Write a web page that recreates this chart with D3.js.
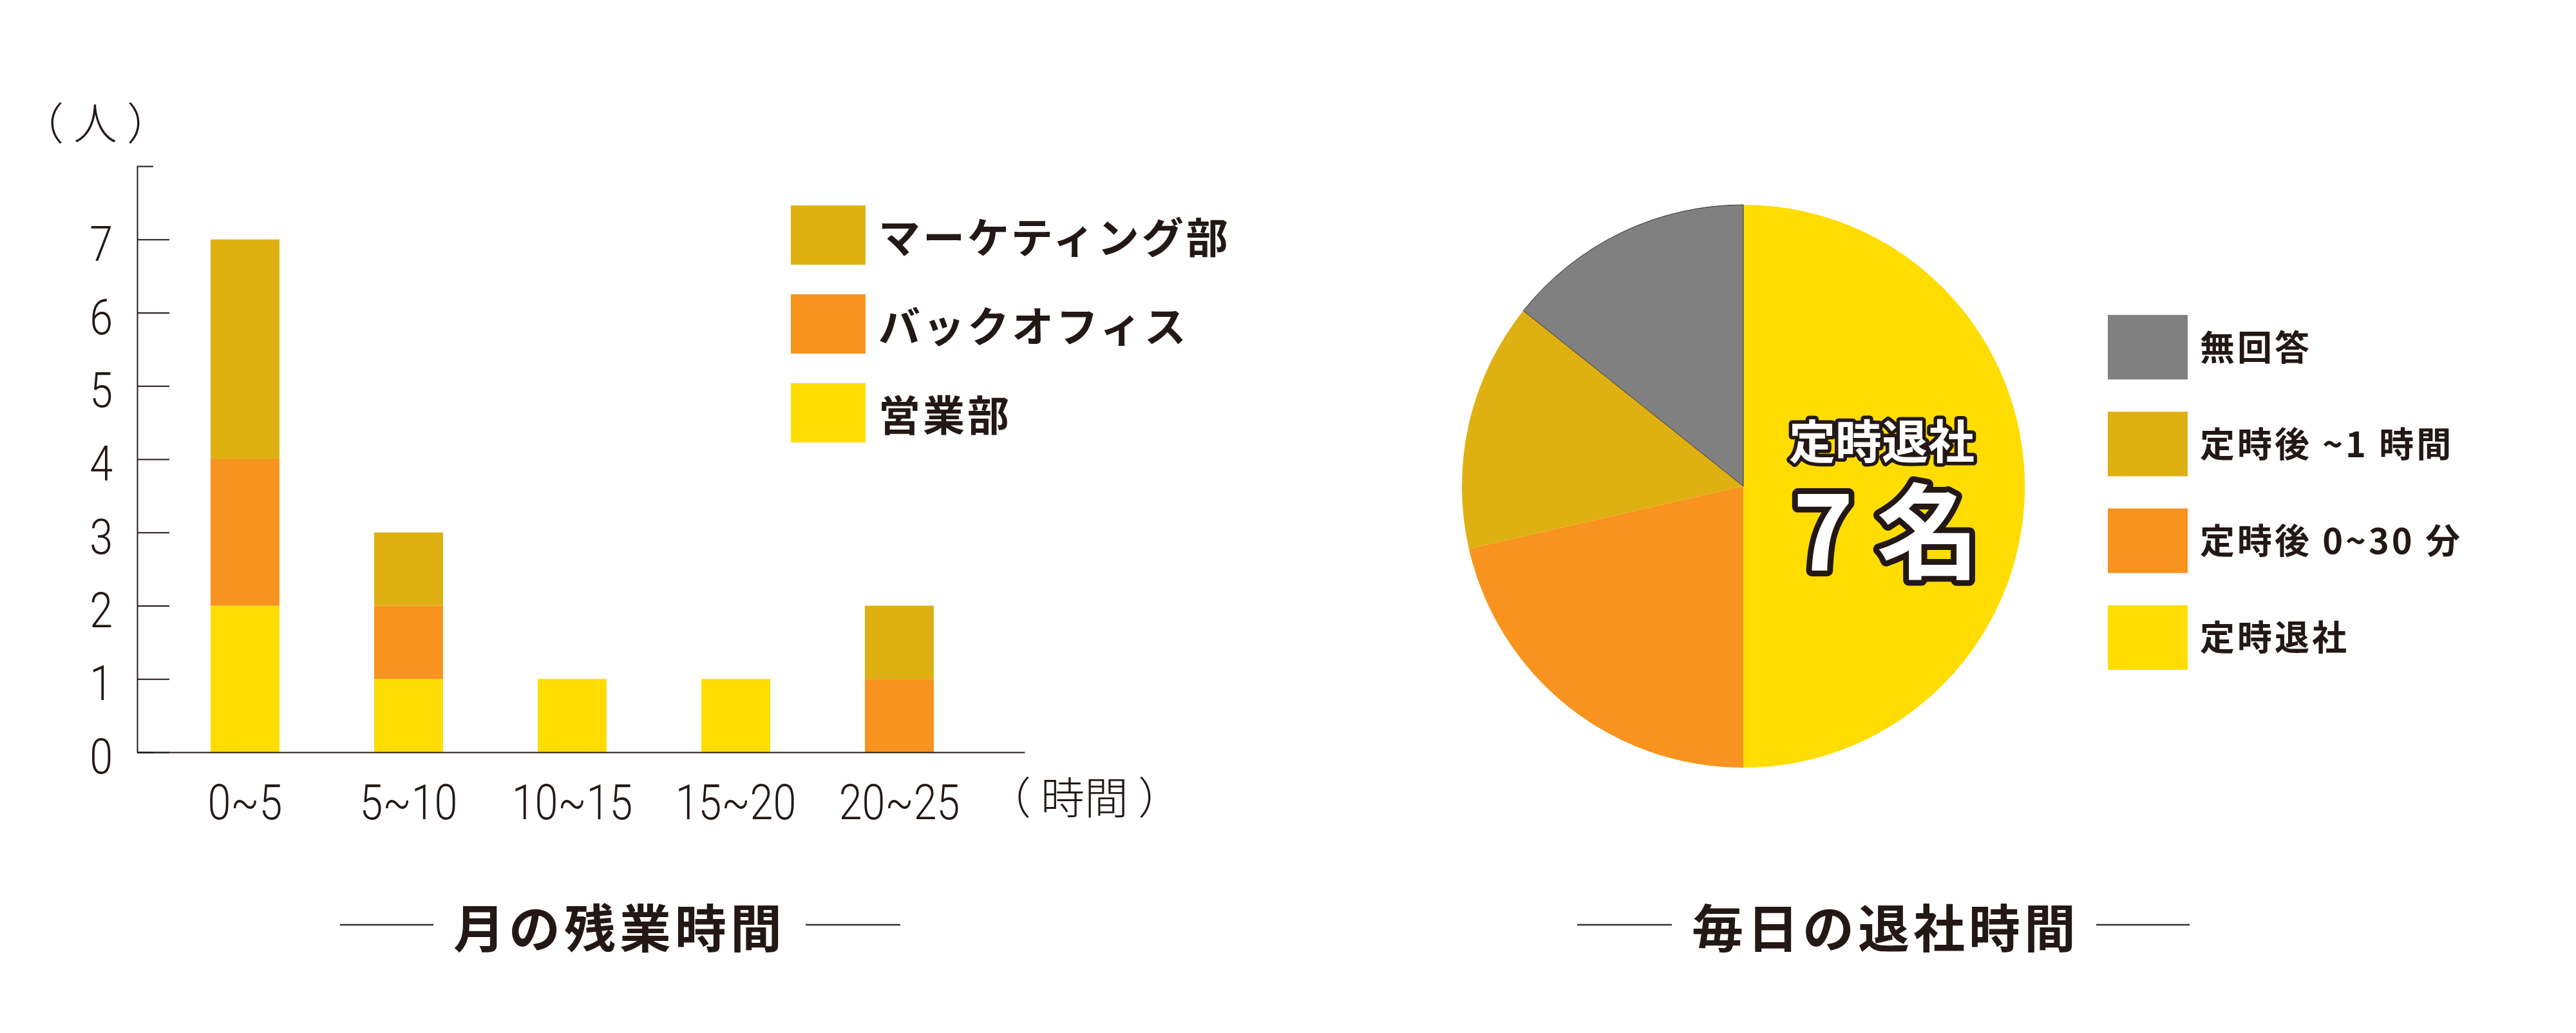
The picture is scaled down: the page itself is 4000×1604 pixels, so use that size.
<!DOCTYPE html>
<html>
<head>
<meta charset="utf-8">
<script src="https://cdn.jsdelivr.net/npm/d3@7"></script>
<style>
  body { margin: 0; background: #fff; }
</style>
</head>
<body>
<div id="chart"></div>
<script>
// bar chart data (people per overtime range, stacked by department)
const categories = ["0~5", "5~10", "10~15", "15~20", "20~25"];
const sales = [2, 1, 1, 1, 0];
const backOffice = [2, 1, 0, 0, 1];
const marketing = [3, 1, 0, 0, 1];
const deptNames = ["営業部", "バックオフィス", "マーケティング部"];
const deptColors = ["#FFDD00", "#F7931E", "#DFB012"];
const yTicks = [0, 1, 2, 3, 4, 5, 6, 7];

// pie data (clockwise from 12 o'clock)
const pieLabels = ["定時退社", "定時後 0~30 分", "定時後 ~1 時間", "無回答"];
const pieValues = [7, 3, 2, 2];
const pieColors = ["#FFDD00", "#F7931E", "#DFB012", "#808080"];

const width = 4000;
const height = 1604;
const ink = "#231815";
const jp = '"Noto Sans CJK JP", "Noto Sans", sans-serif';
const thin = 'Roboto, "Noto Sans", sans-serif';

const svg = d3.select("#chart")
  .append("svg")
  .attr("width", width)
  .attr("height", height);

// ---------- stacked bar chart ----------
const x = d3.scaleBand()
  .domain(categories)
  .range([213, 1591])
  .paddingInner(0.579)
  .paddingOuter(0.502)
  .align(0.447);

const y = d3.scaleLinear()
  .domain([0, 8])
  .range([1168, 258]);

const table = categories.map((c, i) => ({
  cat: c,
  "営業部": sales[i],
  "バックオフィス": backOffice[i],
  "マーケティング部": marketing[i]
}));

const layers = d3.stack().keys(deptNames)(table);

const color = d3.scaleOrdinal().domain(deptNames).range(deptColors);

svg.append("g")
  .selectAll("g")
  .data(layers)
  .enter()
  .append("g")
  .attr("fill", d => color(d.key))
  .selectAll("rect")
  .data(d => d.filter(s => s[1] > s[0]))
  .enter()
  .append("rect")
  .attr("x", d => x(d.data.cat))
  .attr("width", x.bandwidth())
  .attr("y", d => y(d[1]))
  .attr("height", d => y(d[0]) - y(d[1]));

// y axis, ticks pointing inwards
const yAxis = svg.append("g")
  .attr("transform", "translate(213,0)")
  .call(d3.axisLeft(y).tickValues(yTicks).tickSizeInner(-50).tickSizeOuter(-25));

yAxis.select(".domain").attr("stroke", ink).attr("stroke-width", 2);
yAxis.selectAll(".tick line").attr("stroke", ink).attr("stroke-width", 2);
yAxis.selectAll(".tick text")
  .attr("x", null)
  .attr("dy", "0.35em")
  .attr("transform", "translate(-38,6) scale(0.85,1)")
  .attr("fill", ink)
  .style("font-family", thin)
  .style("font-weight", 300)
  .style("font-size", "76px");

// x axis
const xAxis = svg.append("g")
  .attr("transform", "translate(0,1168)")
  .call(d3.axisBottom(x).tickSize(0).tickSizeOuter(0));

xAxis.select(".domain").attr("stroke", ink).attr("stroke-width", 2);
xAxis.selectAll(".tick text")
  .attr("y", 0)
  .attr("dy", null)
  .attr("transform", "translate(0,104) scale(0.85,1)")
  .attr("fill", ink)
  .style("font-family", thin)
  .style("font-weight", 300)
  .style("font-size", "76px");

// axis unit labels
svg.append("text")
  .attr("x", 31)
  .attr("y", 187)
  .attr("dominant-baseline", "central")
  .attr("fill", ink)
  .style("font-family", jp)
  .style("font-weight", 300)
  .style("font-size", "68px")
  .text("（ 人 ）");

svg.append("text")
  .attr("x", 1533)
  .attr("y", 1234)
  .attr("dominant-baseline", "central")
  .attr("fill", ink)
  .style("font-family", jp)
  .style("font-weight", 300)
  .style("font-size", "68px")
  .text("（ 時間 ）");

// bar legend (top row is the top of the stack)
const barLegendOrder = deptNames.slice().reverse();
const ly = d3.scaleBand()
  .domain(barLegendOrder)
  .range([319, 687])
  .paddingInner(0.333);

const barLegend = svg.append("g")
  .selectAll("g")
  .data(barLegendOrder)
  .enter()
  .append("g");

barLegend.append("rect")
  .attr("x", 1228)
  .attr("y", d => ly(d))
  .attr("width", 116)
  .attr("height", ly.bandwidth())
  .attr("fill", d => color(d));

barLegend.append("text")
  .attr("x", 1364)
  .attr("y", d => ly(d) + ly.bandwidth() / 2)
  .attr("dominant-baseline", "central")
  .attr("fill", ink)
  .attr("letter-spacing", 4)
  .style("font-family", jp)
  .style("font-weight", 700)
  .style("font-size", "65px")
  .text(d => d);

// ---------- pie chart ----------
const pieCx = 2707;
const pieCy = 755;
const radius = 437;

const pie = d3.pie().sort(null).value(d => d);
const arcs = pie(pieValues);
const arcGenerator = d3.arc().innerRadius(0).outerRadius(radius);

const pieG = svg.append("g")
  .attr("transform", "translate(" + pieCx + "," + pieCy + ")");

pieG.selectAll("path")
  .data(arcs)
  .enter()
  .append("path")
  .attr("d", arcGenerator)
  .attr("fill", (d, i) => pieColors[i])
  .attr("stroke", (d, i) => i === 3 ? "#333" : "none")
  .attr("stroke-width", 1);

// centre label on the big slice: one text, two lines
const bigLabel = svg.append("text")
  .attr("fill", "#fff")
  .attr("stroke", ink)
  .attr("stroke-linejoin", "round")
  .attr("paint-order", "stroke")
  .attr("text-anchor", "middle")
  .style("font-family", jp)
  .style("font-weight", 700);

bigLabel.append("tspan")
  .attr("x", 2922)
  .attr("y", 712)
  .attr("stroke-width", 11)
  .style("font-size", "72px")
  .text(pieLabels[0]);

bigLabel.append("tspan")
  .attr("x", 2929)
  .attr("y", 886)
  .attr("stroke-width", 18)
  .style("font-size", "160px")
  .text(pieValues[0] + " 名");

// pie legend
const pieLegendOrder = d3.range(pieLabels.length).reverse();
const py = d3.scaleBand()
  .domain(pieLegendOrder)
  .range([489, 1040])
  .paddingInner(0.333);

const pieLegend = svg.append("g")
  .selectAll("g")
  .data(pieLegendOrder)
  .enter()
  .append("g");

pieLegend.append("rect")
  .attr("x", 3273)
  .attr("y", d => py(d))
  .attr("width", 124)
  .attr("height", py.bandwidth())
  .attr("fill", d => pieColors[d]);

pieLegend.append("text")
  .attr("x", 3416)
  .attr("y", d => py(d) + py.bandwidth() / 2 - 3)
  .attr("dominant-baseline", "central")
  .attr("fill", ink)
  .attr("letter-spacing", 4)
  .style("font-family", jp)
  .style("font-weight", 700)
  .style("font-size", "54px")
  .text(d => pieLabels[d]);

// ---------- titles ----------
function title(cx, text, lineL, lineR) {
  const g = svg.append("g");
  g.append("text")
    .attr("x", cx)
    .attr("y", 1436)
    .attr("text-anchor", "middle")
    .attr("dominant-baseline", "central")
    .attr("fill", ink)
    .attr("letter-spacing", 6)
    .style("font-family", jp)
    .style("font-weight", 700)
    .style("font-size", "80px")
    .text(text);
  [lineL, lineR].forEach(l => {
    g.append("line")
      .attr("x1", l[0]).attr("x2", l[1])
      .attr("y1", 1436).attr("y2", 1436)
      .attr("stroke", "#333")
      .attr("stroke-width", 2.5);
  });
}

title(962, "月の残業時間", [528, 673], [1251, 1398]);
title(2928, "毎日の退社時間", [2449, 2596], [3255, 3400]);
</script>
</body>
</html>
